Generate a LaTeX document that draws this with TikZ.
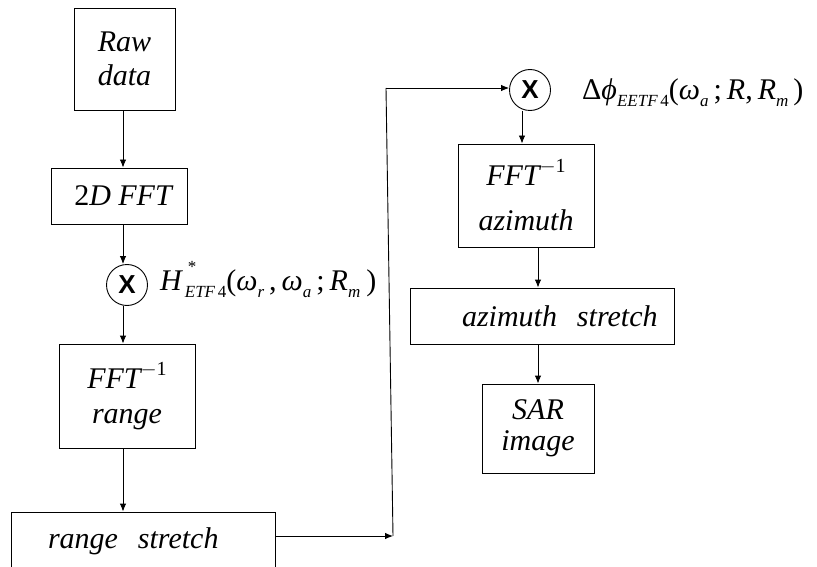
\documentclass[tikz,border=0pt]{standalone}
\usepackage{fontspec}
\setmainfont{Liberation Serif}
\newfontfamily\xsans{Liberation Sans}
\usetikzlibrary{arrows.meta}

% small raised / lowered indices set with text fonts
\newcommand\lowidx[1]{\raisebox{-7pt}{\fontsize{17}{17}\selectfont #1}}
\newcommand\highidx[1]{\rlap{\hspace{3pt}\raisebox{18pt}{\fontsize{17}{17}\selectfont #1}}}
\newcommand\inv{\raisebox{13pt}{\fontsize{20}{20}\selectfont\upshape $-$1}}

\tikzset{
  block/.style={draw=black, line width=0.9pt, rectangle, inner sep=0pt,
    align=center, font=\fontsize{30}{35}\selectfont\itshape},
  mult/.style={draw=black, line width=0.9pt, circle, inner sep=0pt,
    minimum size=41pt, font=\xsans\bfseries\fontsize{26}{26}\selectfont},
  flow/.style={line width=0.9pt, -{Latex[length=8pt,width=6.5pt]}},
  wire/.style={line width=0.9pt},
  formula/.style={inner sep=0pt, font=\fontsize{30}{35}\selectfont}
}

\begin{document}
\begin{tikzpicture}[x=1pt,y=-1pt]
  \useasboundingbox (0,0) rectangle (817,567);
  \clip (0,0) rectangle (817,567);

  % left column: range processing
  \node[block, minimum width=101pt, minimum height=102pt] (raw) at (124.5,59)
    {Raw\\[-1pt]data};
  \node[block, minimum width=136pt, minimum height=56pt] (fft2) at (119,196)
    {\hspace*{8pt}\upshape 2\itshape D FFT};
  \node[mult] (m1) at (127,285) {X};
  \node[block, minimum width=136pt, minimum height=104pt] (ifr) at (127,396)
    {FFT\inv\\range};
  \node[block, minimum width=264pt, minimum height=58pt, text width=240pt,
    align=left] (rs) at (143,541) {\hspace*{25pt}range\ \ stretch};

  % right column: azimuth processing
  \node[mult] (m2) at (530,90) {X};
  \node[block, minimum width=136pt, minimum height=103pt] (ifa) at (526,195.5)
    {FFT\inv\\[10pt]azimuth};
  \node[block, minimum width=264pt, minimum height=56pt, text width=240pt,
    align=left] (as) at (542,316) {\hspace*{40pt}azimuth\ \ stretch};
  \node[block, minimum width=112pt, minimum height=89pt] (sar) at (538,428.5)
    {SAR\\[-4pt]image};

  % reference functions
  \node[formula, anchor=base west] (hlab) at (160,290)
    {\itshape H\hspace{3pt}\highidx{\upshape *}\lowidx{ETF\,\upshape 4}\upshape(\itshape ω\lowidx{r}\upshape\,,\,\itshape ω\lowidx{a}\upshape\,;\,\itshape R\lowidx{m}\upshape\hspace{6pt})};
  \node[formula, anchor=base west] (dlab) at (582,100)
    {\upshape Δ\itshape ϕ\lowidx{EETF\,\upshape 4}\upshape(\itshape ω\lowidx{a}\upshape\,;\,\itshape R\upshape,\,\itshape R\lowidx{m}\upshape\,)};

  % column guides for the vertical arrows
  \coordinate (cl) at (123,0);
  \coordinate (cr) at (522,0);
  \coordinate (cs) at (538,0);
  \coordinate (jb) at (393,536);
  \coordinate (jt) at (386,88);

  \draw[flow] (raw.south -| cl) -- (fft2.north -| cl);
  \draw[flow] (fft2.south -| cl) -- (cl |- m1.north);
  \draw[flow] (cl |- m1.south) -- (ifr.north -| cl);
  \draw[flow] (ifr.south -| cl) -- (rs.north -| cl);

  \draw[flow] (rs.east |- jb) -- (jb);
  \draw[wire] (jb) -- (jt);
  \draw[flow] (jt) -- (m2.west |- jt);

  \draw[flow] (cr |- m2.south) -- (ifa.north -| cr);
  \draw[flow] (ifa.south -| cs) -- (as.north -| cs);
  \draw[flow] (as.south -| cs) -- (sar.north -| cs);
\end{tikzpicture}
\end{document}
